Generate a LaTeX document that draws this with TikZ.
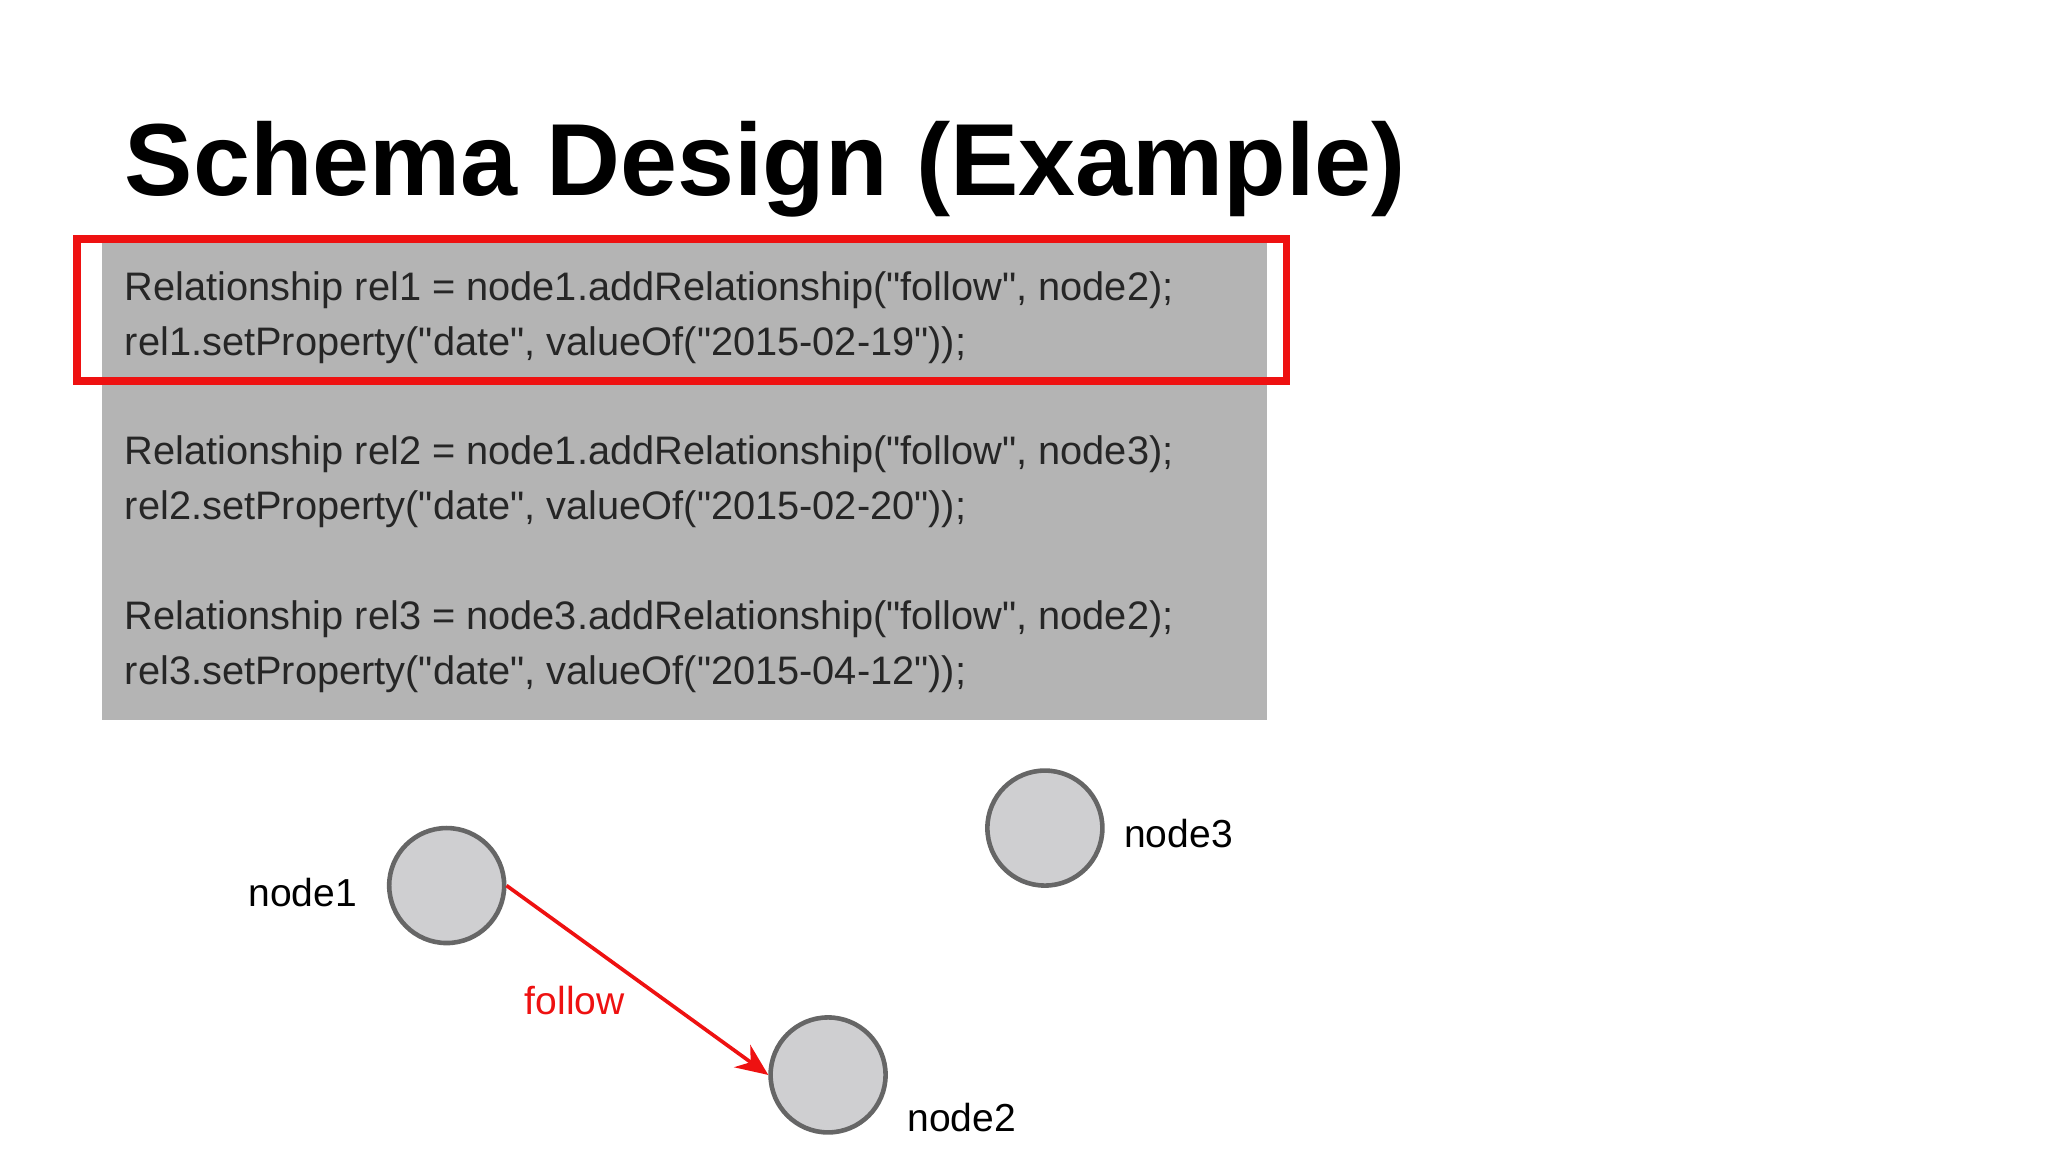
\documentclass[tikz,border=0pt]{standalone}
\usepackage{fontspec}
\setmainfont{Liberation Sans}
\newfontfamily\lib{Liberation Sans}
\usetikzlibrary{arrows.meta}
\definecolor{codebg}{HTML}{B4B4B4}
\definecolor{nodefill}{HTML}{CFCFD1}
\definecolor{nodeline}{HTML}{666666}
\definecolor{hl}{HTML}{EE1111}
\begin{document}
\begin{tikzpicture}[x=0.01cm,y=-0.01cm,
  code/.style={anchor=base west,inner sep=0pt,font=\lib\fontsize{8.66}{10}\selectfont,text=black!85},
  gnode/.style={circle,draw=nodeline,fill=nodefill,line width=1pt,minimum size=0.88cm,inner sep=0pt},
  lbl/.style={font=\lib\fontsize{8.5}{10}\selectfont,inner sep=0pt}]
\useasboundingbox (0,0) rectangle (1568,882);
\node[anchor=base west,inner sep=0pt,font=\bfseries\fontsize{22.3}{27}\selectfont] (title) at (95,150) {Schema Design (Example)};
\fill[codebg] (78,185) rectangle (970,551);
\draw[hl,line width=1.7pt] (59,183) rectangle (985,292);
\node[code] (l1) at (95,230) {Relationship rel1 = node1.addRelationship("follow", node2);};
\node[code] (l2) at (95,272) {rel1.setProperty("date", valueOf("2015-02-19"));};
\node[code] (l3) at (95,356) {Relationship rel2 = node1.addRelationship("follow", node3);};
\node[code] (l4) at (95,398) {rel2.setProperty("date", valueOf("2015-02-20"));};
\node[code] (l5) at (95,482) {Relationship rel3 = node3.addRelationship("follow", node2);};
\node[code] (l6) at (95,524) {rel3.setProperty("date", valueOf("2015-04-12"));};
\node[gnode] (n1) at (342,678) {};
\node[gnode] (n3) at (800,634) {};
\node[gnode] (n2) at (634,823) {};
\node[lbl,anchor=east] (t1) at (274,683) {node1};
\node[lbl,anchor=west] (t3) at (860,638) {node3};
\node[lbl,anchor=west] (t2) at (694,856) {node2};
\draw[hl,line width=0.8pt,-{Stealth[length=7pt,width=6pt]}] (n1.east) -- (n2.west);
\node[lbl,text=hl] (f) at (440,766) {follow};
\end{tikzpicture}
\end{document}
